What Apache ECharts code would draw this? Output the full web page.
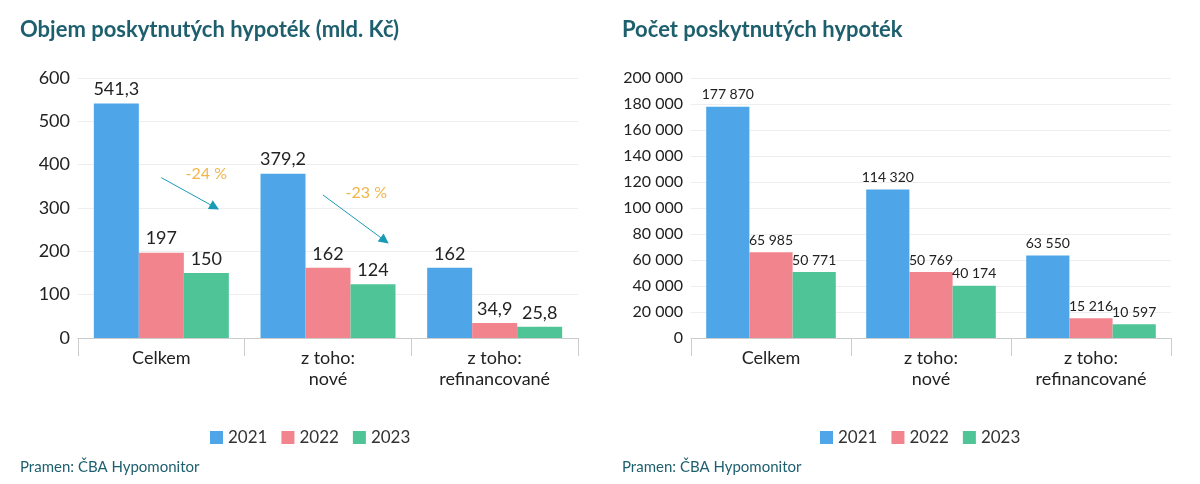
<!DOCTYPE html><html><head><meta charset="utf-8"><script src="https://cdn.jsdelivr.net/npm/echarts@6/dist/echarts.min.js"></script>
<style>body{margin:0;background:#fff}#c{width:1200px;height:484px}</style></head><body><div id="c"></div><script>
const categories=['Celkem','z toho:\nnové','z toho:\nrefinancované'];
const years=['2021','2022','2023'];
const objem2021=[541.3,379.2,162],objem2022=[197,162,34.9],objem2023=[150,124,25.8];
const pocet2021=[177870,114320,63550],pocet2022=[65985,50769,15216],pocet2023=[50771,40174,10597];
const arrows=[{from:[0.0,370],to:[0.32,302],label:'-24 %',pos:[0.27,378]},{from:[0.97,330],to:[1.34,225],label:'-23 %',pos:[1.23,335]}];
const colors=['#4ea6e9','#f1848c','#4fc597'];
const F='Lato';
const fmtC=v=>String(v).replace('.',',');
const fmtS=v=>String(v).replace(/\B(?=(\d{3})+(?!\d))/g,' ');
function bars(data,xi,yi,fmt){return data.map((d,i)=>({name:years[i],type:'bar',xAxisIndex:xi,yAxisIndex:yi,data:d,barGap:0,barCategoryGap:'19%',itemStyle:{color:colors[i]},label:{show:true,position:'top',color:'#222',fontFamily:F,fontSize:xi==0?18:14,formatter:p=>fmt(p.value)}}));}
const series=[...bars([objem2021,objem2022,objem2023],0,0,fmtC),...bars([pocet2021,pocet2022,pocet2023],1,1,fmtS)];
series.push({type:'scatter',xAxisIndex:2,yAxisIndex:2,symbolSize:0,silent:true,data:arrows.map(a=>({value:a.pos,label:{show:true,formatter:a.label}})),label:{show:true,position:'inside',color:'#eea21c',fontFamily:F,fontSize:16},
 markLine:{symbol:['none','triangle'],symbolSize:10,silent:true,lineStyle:{color:'#1a9bb5',type:'solid',width:1},label:{show:false},
 data:arrows.map(a=>[{coord:a.from},{coord:a.to}])}});
const catAxis=(gi)=>({type:'category',gridIndex:gi,data:categories,axisTick:{show:true,alignWithLabel:false,length:18,lineStyle:{color:'#ccc'}},axisLine:{lineStyle:{color:'#ccc'}},axisLabel:{color:'#222',fontFamily:F,fontSize:18,lineHeight:21,margin:10}});
const opt={
 title:[{text:'Objem poskytnutých hypoték (mld. Kč)',left:15,top:14,textStyle:{color:'#1e5f6e',fontFamily:F,fontSize:22,fontWeight:'bold'}},
  {text:'Počet poskytnutých hypoték',left:617,top:14,textStyle:{color:'#1e5f6e',fontFamily:F,fontSize:22,fontWeight:'bold'}},
  {text:'Pramen: ČBA Hypomonitor',left:15,top:455,textStyle:{color:'#1e5f6e',fontFamily:F,fontSize:15,fontWeight:'normal'}},
  {text:'Pramen: ČBA Hypomonitor',left:617,top:455,textStyle:{color:'#1e5f6e',fontFamily:F,fontSize:15,fontWeight:'normal'}}],
 legend:[{data:years,left:205,top:424,itemWidth:13,itemHeight:13,itemGap:14,icon:'rect',textStyle:{fontFamily:F,fontSize:17,color:'#333'}},
  {data:years,left:815,top:424,itemWidth:13,itemHeight:13,itemGap:14,icon:'rect',textStyle:{fontFamily:F,fontSize:17,color:'#333'}}],
 grid:[{left:78,top:78,width:500,height:260},{left:691,top:78,width:480,height:260},{left:78,top:78,width:500,height:260}],
 xAxis:[catAxis(0),catAxis(1),{type:'value',gridIndex:2,min:-0.5,max:2.5,show:false}],
 yAxis:[{type:'value',gridIndex:0,min:0,max:600,interval:100,axisLabel:{color:'#222',fontFamily:F,fontSize:18},splitLine:{lineStyle:{color:'#eee'}}},
  {type:'value',gridIndex:1,min:0,max:200000,interval:20000,axisLabel:{color:'#222',fontFamily:F,fontSize:16,formatter:fmtS},splitLine:{lineStyle:{color:'#eee'}}},
  {type:'value',gridIndex:2,min:0,max:600,show:false}],
 series};
const ch=echarts.init(document.getElementById('c'));ch.setOption(opt);
</script></body></html>
